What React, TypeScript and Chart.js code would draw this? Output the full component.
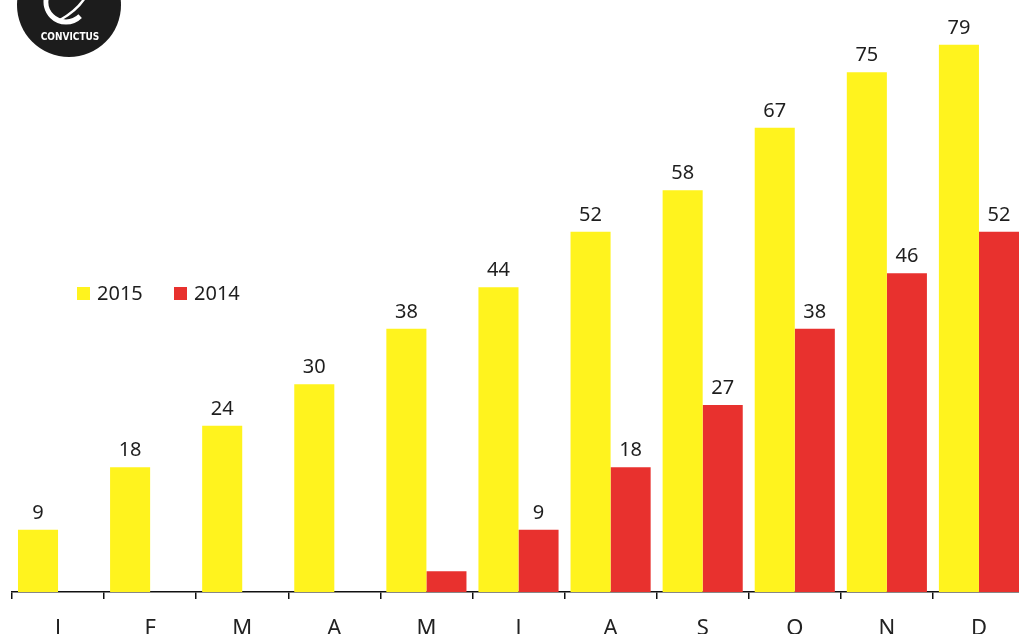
import React, { useEffect, useRef } from "react";
import { Chart, registerables } from "chart.js";

Chart.register(...registerables);

const categories = ["J", "F", "M", "A", "M", "J", "A", "S", "O", "N", "D"];
const values2015 = [9, 18, 24, 30, 38, 44, 52, 58, 67, 75, 79];
const values2014 = [0, 0, 0, 0, 3, 9, 18, 27, 38, 46, 52];
const labelled2014 = [false, false, false, false, false, true, true, true, true, true, true];
const seriesNames = ["2015", "2014"];

const YELLOW = "#FFF31E";
const RED = "#E8312E";
const FONT = "'Noto Sans', 'Open Sans', sans-serif";

const valueLabels = {
  id: "valueLabels",
  afterDatasetsDraw(chart: any) {
    const ctx = chart.ctx;
    ctx.save();
    ctx.font = `20px ${FONT}`;
    ctx.fillStyle = "#1e1e1e";
    ctx.textAlign = "center";
    ctx.textBaseline = "alphabetic";
    chart.data.datasets.forEach((ds: any, di: number) => {
      const meta = chart.getDatasetMeta(di);
      meta.data.forEach((bar: any, i: number) => {
        const v = ds.data[i];
        if (!v) return;
        if (di === 1 && !labelled2014[i]) return;
        ctx.fillText(String(v), bar.x, bar.y - 11);
      });
    });
    ctx.restore();
  },
};

const customLegend = {
  id: "customLegend",
  afterDraw(chart: any) {
    const ctx = chart.ctx;
    ctx.save();
    const items = [
      { x: 77, color: YELLOW, text: seriesNames[0] },
      { x: 174, color: RED, text: seriesNames[1] },
    ];
    ctx.font = `20px ${FONT}`;
    ctx.textBaseline = "middle";
    ctx.textAlign = "left";
    items.forEach((it) => {
      ctx.fillStyle = it.color;
      ctx.fillRect(it.x, 287, 13, 13);
      ctx.fillStyle = "#1e1e1e";
      ctx.fillText(it.text, it.x + 20, 294);
    });
    // logo
    ctx.fillStyle = "#1c1c1c";
    ctx.beginPath();
    ctx.arc(69, 5, 52, 0, Math.PI * 2);
    ctx.fill();
    ctx.strokeStyle = "#ffffff";
    ctx.lineWidth = 5;
    ctx.beginPath();
    ctx.arc(66, 2, 20, Math.PI * 0.25, Math.PI * 1.1, false);
    ctx.stroke();
    ctx.lineWidth = 2.5;
    ctx.beginPath();
    ctx.moveTo(60, 20);
    ctx.quadraticCurveTo(78, 10, 86, -4);
    ctx.stroke();
    ctx.fillStyle = "#ffffff";
    ctx.font = `bold 10px 'DejaVu Sans Condensed', 'Liberation Sans Narrow', sans-serif`;
    ctx.textAlign = "center";
    ctx.textBaseline = "middle";
    ctx.fillText("CONVICTUS", 70, 37);
    ctx.restore();
  },
};

export default function App() {
  const ref = useRef<HTMLCanvasElement>(null);
  useEffect(() => {
    if (!ref.current) return;
    const chart = new Chart(ref.current, {
      type: "bar",
      data: {
        labels: categories,
        datasets: [
          { label: seriesNames[0], data: values2015, backgroundColor: YELLOW, categoryPercentage: 0.87, barPercentage: 1 },
          { label: seriesNames[1], data: values2014, backgroundColor: RED, categoryPercentage: 0.87, barPercentage: 1 },
        ],
      },
      options: {
        responsive: false,
        animation: false,
        layout: { padding: { left: 12, right: 5, top: 10, bottom: 0 } },
        plugins: { legend: { display: false }, tooltip: { enabled: false } },
        scales: {
          y: { display: false, min: 0, max: 84 },
          x: {
            afterFit(scale: any) {
              scale.height = 58;
            },
            border: { display: true, color: "#111", width: 1.5 },
            grid: { offset: true, drawOnChartArea: false, drawTicks: true, tickLength: 7, color: "#111", lineWidth: 1.5 },
            ticks: { color: "#222", font: { family: FONT, size: 22 }, padding: 17, maxRotation: 0 },
          },
        },
      },
      plugins: [valueLabels, customLegend],
    });
    return () => chart.destroy();
  }, []);
  return (
    <div style={{ position: "fixed", left: 0, top: 0, width: 1019, height: 634, overflow: "hidden", background: "#fff" }}>
      <canvas ref={ref} width={1030} height={650} style={{ display: "block", width: 1030, height: 650 }} />
    </div>
  );
}
